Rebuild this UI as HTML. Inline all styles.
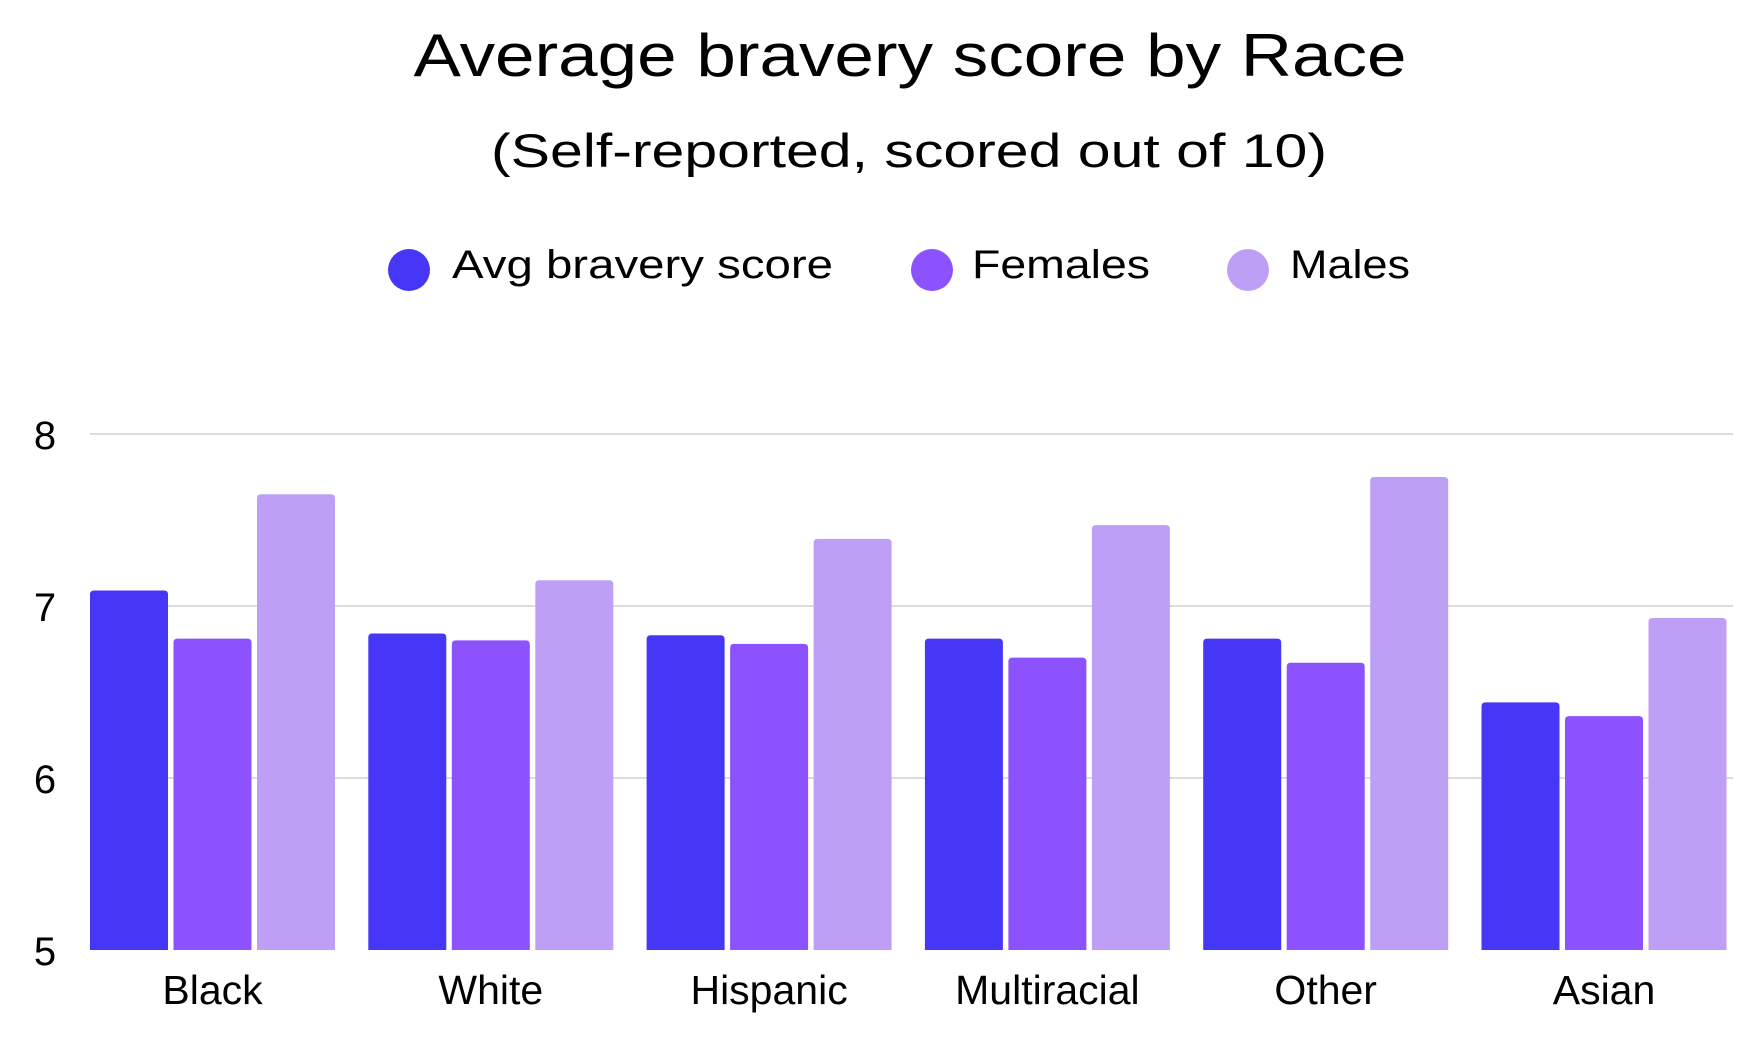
<!DOCTYPE html>
<html><head><meta charset="utf-8"><style>
html,body{margin:0;padding:0;background:#fff;}
svg{display:block;font-family:"Liberation Sans",sans-serif;}
</style></head><body>
<svg id="chart" width="1760" height="1051" viewBox="0 0 1760 1051">
<text x="910" y="76" font-size="60" text-anchor="middle" fill="#000" textLength="993" lengthAdjust="spacingAndGlyphs">Average bravery score by Race</text>
<text x="909" y="167" font-size="47" text-anchor="middle" fill="#000" textLength="836" lengthAdjust="spacingAndGlyphs">(Self-reported, scored out of 10)</text>
<g>
<g><circle cx="409" cy="270" r="21" fill="#4636f5"/><text x="452" y="278" font-size="40" textLength="381" lengthAdjust="spacingAndGlyphs">Avg bravery score</text></g>
<g><circle cx="932" cy="270" r="21" fill="#8c52fd"/><text x="972" y="278" font-size="40" textLength="178" lengthAdjust="spacingAndGlyphs">Females</text></g>
<g><circle cx="1248" cy="270" r="21" fill="#bda0f6"/><text x="1290" y="278" font-size="40" textLength="120" lengthAdjust="spacingAndGlyphs">Males</text></g>
</g>
<g id="grid"></g>
<g id="bars"></g>
<g id="labels"></g>
</svg>
<script>
const categories = ["Black","White","Hispanic","Multiracial","Other","Asian"];
const avgScores = [7.09,6.84,6.83,6.81,6.81,6.44];
const femaleScores = [6.81,6.80,6.78,6.70,6.67,6.36];
const maleScores = [7.65,7.15,7.39,7.47,7.75,6.93];
const yTicks = [5,6,7,8];
const seriesColors = ["#4636f5","#8c52fd","#bda0f6"];

const NS="http://www.w3.org/2000/svg";
const yMin=5,yMax=8,yTop=434,yBot=950;
function y(v){return yBot-(v-yMin)/(yMax-yMin)*(yBot-yTop);}
const xLeft=90,groupStep=278.3,barW=78,barGap=5.5;
function xBar(i,s){return xLeft+i*groupStep+s*(barW+barGap);}
const grid=document.getElementById('grid'),bars=document.getElementById('bars'),labels=document.getElementById('labels');
yTicks.forEach(t=>{
  if(t>yMin){
    const l=document.createElementNS(NS,'line');
    l.setAttribute('x1',xLeft);l.setAttribute('x2',1733);
    l.setAttribute('y1',y(t));l.setAttribute('y2',y(t));
    l.setAttribute('stroke','#dcdcdc');l.setAttribute('stroke-width','2');
    
    
    grid.appendChild(l);
  }
  const tx=document.createElementNS(NS,'text');
  tx.setAttribute('x',45);tx.setAttribute('y',y(t)+15);
  tx.setAttribute('font-size','40');tx.setAttribute('text-anchor','middle');
  tx.textContent=t;
  
  
  labels.appendChild(tx);
});
const series=[avgScores,femaleScores,maleScores];
const snames=['avg','female','male'];
categories.forEach((c,i)=>{
  series.forEach((arr,s)=>{
    const v=arr[i],top=y(v),x=xBar(i,s);
    const p=document.createElementNS(NS,'path');
    const r=4;
    p.setAttribute('d',`M${x},${yBot}V${top+r}Q${x},${top} ${x+r},${top}H${x+barW-r}Q${x+barW},${top} ${x+barW},${top+r}V${yBot}Z`);
    p.setAttribute('fill',seriesColors[s]);
    
    
    bars.appendChild(p);
  });
  const tx=document.createElementNS(NS,'text');
  tx.setAttribute('x',xBar(i,1)+barW/2);tx.setAttribute('y',1004);
  tx.setAttribute('font-size','41');tx.setAttribute('text-anchor','middle');
  tx.textContent=c;
  
  
  labels.appendChild(tx);
});
</script>
</body></html>
